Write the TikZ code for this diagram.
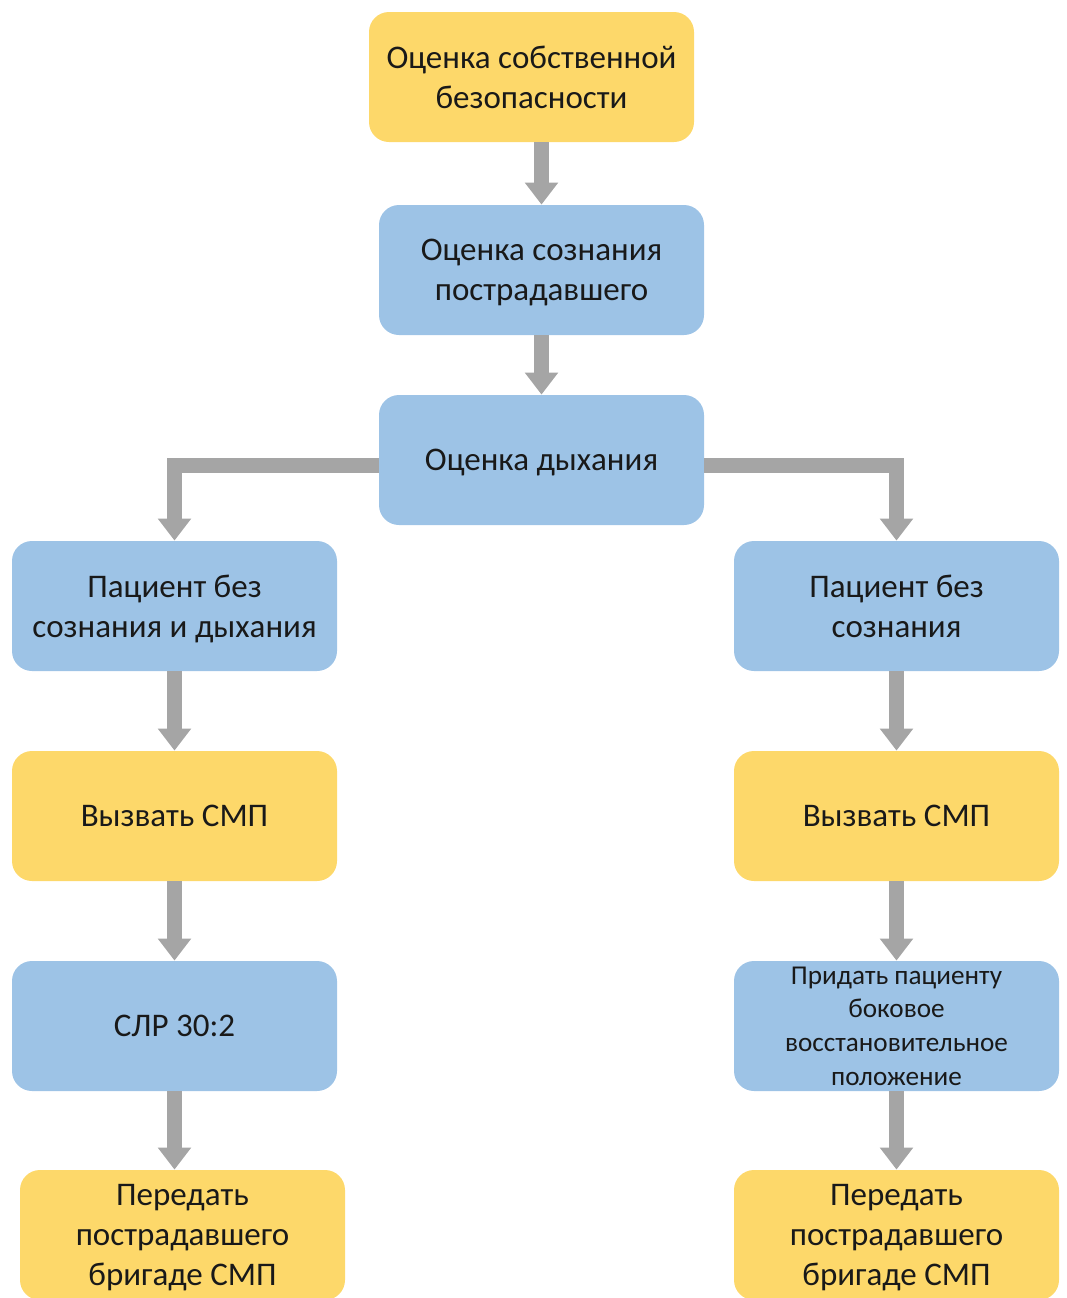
\documentclass[tikz,border=0pt]{standalone}
\usepackage{fontspec}
\setmainfont{Carlito}
\usepackage{xcolor}
\usetikzlibrary{arrows.meta}

\definecolor{boxyellow}{HTML}{FDD86A}
\definecolor{boxblue}{HTML}{9DC3E6}
\definecolor{arrgray}{HTML}{A5A5A5}

\tikzset{
	box/.style={rounded corners=10pt, minimum width=162.5pt, minimum height=65pt,
		align=center, inner sep=2pt, text=black!90, text depth=-1pt,
		font=\fontsize{16.5}{20}\selectfont},
	ybox/.style={box, fill=boxyellow},
	bbox/.style={box, fill=boxblue},
	smalltext/.style={font=\fontsize{13.6}{16.8}\selectfont},
	arr/.style={draw=arrgray, line width=7.5pt, line join=miter,
		-{Triangle[width=16pt,length=11pt]}}
}

\begin{document}
\begin{tikzpicture}[x=0.5pt, y=-0.5pt]
	\useasboundingbox (0,0) rectangle (1067,1298);
	\clip (0,0) rectangle (1067,1298);

	\coordinate[](c0) at (531.5, 77);
	\coordinate[](c1) at (541.5, 270);
	\coordinate[](c2) at (541.5, 460);

	\coordinate[](l1) at (174.5, 606);
	\coordinate[](l2) at (174.5, 816);
	\coordinate[](l3) at (174.5, 1026);
	\coordinate[](l4) at (182.5, 1235);

	\coordinate[](r1) at (896.5, 606);
	\coordinate[](r2) at (896.5, 816);
	\coordinate[](r3) at (896.5, 1026);
	\coordinate[](r4) at (896.5, 1235);

	%% Center column
	\node[ybox] (bezop) at (c0) {Оценка собственной\\безопасности};
	\node[bbox] (soznan) at (c1) {Оценка сознания\\пострадавшего};
	\node[bbox] (dyhan) at (c2) {Оценка дыхания};

	%% Left column
	\node[bbox] (nodyh) at (l1) {Пациент без\\сознания и дыхания};
	\node[ybox] (smpL) at (l2) {Вызвать СМП};
	\node[bbox] (slr) at (l3) {СЛР 30:2};
	\node[ybox] (peredL) at (l4) {Передать\\пострадавшего\\бригаде СМП};

	%% Right column
	\node[bbox] (nosozn) at (r1) {Пациент без\\сознания};
	\node[ybox] (smpR) at (r2) {Вызвать СМП};
	\node[bbox, smalltext] (bok) at (r3) {Придать пациенту\\боковое\\восстановительное\\положение};
	\node[ybox] (peredR) at (r4) {Передать\\пострадавшего\\бригаде СМП};

	%% Arrows
	\draw[arr] (bezop.south -| soznan.north) -- (soznan.north);
	\draw[arr] (soznan.south) -- (dyhan.north);
	\draw[arr] ([yshift=-2.5pt]dyhan.west) -| (nodyh.north);
	\draw[arr] ([yshift=-2.5pt]dyhan.east) -| (nosozn.north);
	%
	\draw[arr] (nodyh.south) -- (smpL.north);
	\draw[arr] (smpL.south) -- (slr.north);
	\draw[arr] (slr.south) -- (slr.south |- peredL.north);
	%
	\draw[arr] (nosozn.south) -- (smpR.north);
	\draw[arr] (smpR.south) -- (bok.north);
	\draw[arr] (bok.south) -- (peredR.north);

\end{tikzpicture}
\end{document}
